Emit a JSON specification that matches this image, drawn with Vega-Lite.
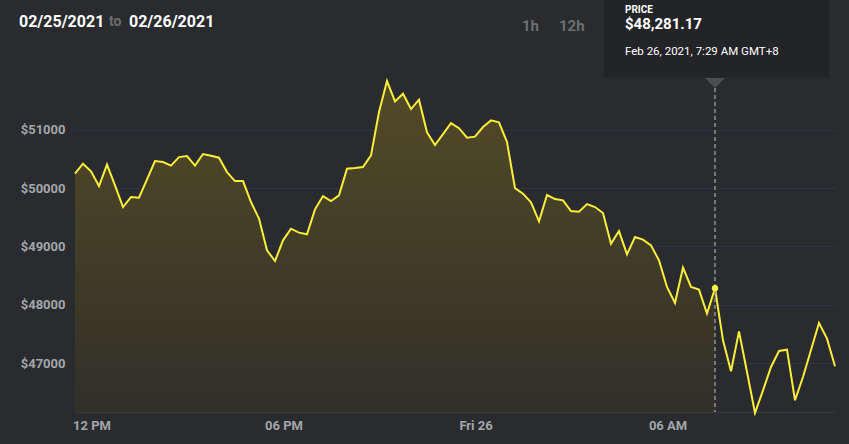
{
  "$schema": "https://vega.github.io/schema/vega-lite/v6.json",
  "autosize": "none",
  "width": 760,
  "height": 350,
  "padding": {"left": 75, "top": 62, "right": 14, "bottom": 32},
  "background": "#2a2b2e",
  "config": {"view": {"stroke": null}, "font": "Roboto"},
  "data": {
    "values": [
      {"time": "2021-02-25T11:29Z", "price": 50246},
      {"time": "2021-02-25T11:44Z", "price": 50417},
      {"time": "2021-02-25T11:59Z", "price": 50285},
      {"time": "2021-02-25T12:14Z", "price": 50033},
      {"time": "2021-02-25T12:29Z", "price": 50400},
      {"time": "2021-02-25T12:44Z", "price": 50045},
      {"time": "2021-02-25T12:59Z", "price": 49674},
      {"time": "2021-02-25T13:14Z", "price": 49845},
      {"time": "2021-02-25T13:29Z", "price": 49834},
      {"time": "2021-02-25T13:44Z", "price": 50148},
      {"time": "2021-02-25T13:59Z", "price": 50462},
      {"time": "2021-02-25T14:14Z", "price": 50445},
      {"time": "2021-02-25T14:29Z", "price": 50383},
      {"time": "2021-02-25T14:44Z", "price": 50530},
      {"time": "2021-02-25T14:59Z", "price": 50548},
      {"time": "2021-02-25T15:14Z", "price": 50383},
      {"time": "2021-02-25T15:29Z", "price": 50582},
      {"time": "2021-02-25T15:44Z", "price": 50554},
      {"time": "2021-02-25T15:59Z", "price": 50520},
      {"time": "2021-02-25T16:14Z", "price": 50273},
      {"time": "2021-02-25T16:29Z", "price": 50119},
      {"time": "2021-02-25T16:44Z", "price": 50119},
      {"time": "2021-02-25T16:59Z", "price": 49759},
      {"time": "2021-02-25T17:14Z", "price": 49475},
      {"time": "2021-02-25T17:29Z", "price": 48932},
      {"time": "2021-02-25T17:44Z", "price": 48748},
      {"time": "2021-02-25T17:59Z", "price": 49103},
      {"time": "2021-02-25T18:14Z", "price": 49303},
      {"time": "2021-02-25T18:29Z", "price": 49235},
      {"time": "2021-02-25T18:44Z", "price": 49206},
      {"time": "2021-02-25T18:59Z", "price": 49634},
      {"time": "2021-02-25T19:14Z", "price": 49862},
      {"time": "2021-02-25T19:29Z", "price": 49777},
      {"time": "2021-02-25T19:44Z", "price": 49874},
      {"time": "2021-02-25T19:59Z", "price": 50332},
      {"time": "2021-02-25T20:14Z", "price": 50342},
      {"time": "2021-02-25T20:29Z", "price": 50359},
      {"time": "2021-02-25T20:44Z", "price": 50560},
      {"time": "2021-02-25T20:59Z", "price": 51302},
      {"time": "2021-02-25T21:14Z", "price": 51833},
      {"time": "2021-02-25T21:29Z", "price": 51485},
      {"time": "2021-02-25T21:44Z", "price": 51617},
      {"time": "2021-02-25T21:59Z", "price": 51353},
      {"time": "2021-02-25T22:14Z", "price": 51514},
      {"time": "2021-02-25T22:29Z", "price": 50954},
      {"time": "2021-02-25T22:44Z", "price": 50736},
      {"time": "2021-02-25T22:59Z", "price": 50925},
      {"time": "2021-02-25T23:14Z", "price": 51113},
      {"time": "2021-02-25T23:29Z", "price": 51025},
      {"time": "2021-02-25T23:44Z", "price": 50863},
      {"time": "2021-02-25T23:59Z", "price": 50880},
      {"time": "2021-02-26T00:14Z", "price": 51045},
      {"time": "2021-02-26T00:29Z", "price": 51159},
      {"time": "2021-02-26T00:44Z", "price": 51125},
      {"time": "2021-02-26T00:59Z", "price": 50788},
      {"time": "2021-02-26T01:14Z", "price": 49999},
      {"time": "2021-02-26T01:29Z", "price": 49903},
      {"time": "2021-02-26T01:44Z", "price": 49754},
      {"time": "2021-02-26T01:59Z", "price": 49428},
      {"time": "2021-02-26T02:14Z", "price": 49880},
      {"time": "2021-02-26T02:29Z", "price": 49811},
      {"time": "2021-02-26T02:44Z", "price": 49788},
      {"time": "2021-02-26T02:59Z", "price": 49605},
      {"time": "2021-02-26T03:14Z", "price": 49594},
      {"time": "2021-02-26T03:29Z", "price": 49725},
      {"time": "2021-02-26T03:44Z", "price": 49674},
      {"time": "2021-02-26T03:59Z", "price": 49571},
      {"time": "2021-02-26T04:14Z", "price": 49046},
      {"time": "2021-02-26T04:29Z", "price": 49262},
      {"time": "2021-02-26T04:44Z", "price": 48863},
      {"time": "2021-02-26T04:59Z", "price": 49160},
      {"time": "2021-02-26T05:14Z", "price": 49115},
      {"time": "2021-02-26T05:29Z", "price": 49017},
      {"time": "2021-02-26T05:44Z", "price": 48760},
      {"time": "2021-02-26T05:59Z", "price": 48303},
      {"time": "2021-02-26T06:14Z", "price": 48028},
      {"time": "2021-02-26T06:29Z", "price": 48635},
      {"time": "2021-02-26T06:44Z", "price": 48303},
      {"time": "2021-02-26T06:59Z", "price": 48258},
      {"time": "2021-02-26T07:14Z", "price": 47847},
      {"time": "2021-02-26T07:29Z", "price": 48281.17},
      {"time": "2021-02-26T07:44Z", "price": 47389},
      {"time": "2021-02-26T07:59Z", "price": 46858},
      {"time": "2021-02-26T08:14Z", "price": 47543},
      {"time": "2021-02-26T08:29Z", "price": 46846},
      {"time": "2021-02-26T08:44Z", "price": 46143},
      {"time": "2021-02-26T08:59Z", "price": 46532},
      {"time": "2021-02-26T09:14Z", "price": 46932},
      {"time": "2021-02-26T09:29Z", "price": 47206},
      {"time": "2021-02-26T09:44Z", "price": 47229},
      {"time": "2021-02-26T09:59Z", "price": 46361},
      {"time": "2021-02-26T10:14Z", "price": 46760},
      {"time": "2021-02-26T10:29Z", "price": 47222},
      {"time": "2021-02-26T10:44Z", "price": 47686},
      {"time": "2021-02-26T10:59Z", "price": 47418},
      {"time": "2021-02-26T11:14Z", "price": 46944}
    ],
    "format": {"parse": {"time": "date"}}
  },
  "encoding": {
    "x": {
      "field": "time",
      "type": "temporal",
      "scale": {
        "type": "utc",
        "nice": false,
        "domain": [
          {"year": 2021, "month": 2, "date": 25, "hours": 11, "minutes": 29, "utc": true},
          {"year": 2021, "month": 2, "date": 26, "hours": 11, "minutes": 14, "utc": true}
        ]
      },
      "axis": {
        "title": null,
        "values": [
          {"year": 2021, "month": 2, "date": 25, "hours": 12, "utc": true},
          {"year": 2021, "month": 2, "date": 25, "hours": 18, "utc": true},
          {"year": 2021, "month": 2, "date": 26, "hours": 0, "utc": true},
          {"year": 2021, "month": 2, "date": 26, "hours": 6, "utc": true}
        ],
        "grid": false,
        "ticks": false,
        "domain": true,
        "domainColor": "#35373b",
        "domainWidth": 2,
        "labelColor": "#a3a6aa",
        "labelFont": "Roboto",
        "labelFontWeight": "bold",
        "labelFontSize": 13,
        "labelPadding": 7
      }
    },
    "y": {
      "field": "price",
      "type": "quantitative",
      "scale": {"domain": [46160, 52160], "nice": false, "zero": false},
      "axis": {
        "title": null,
        "values": [47000, 48000, 49000, 50000, 51000],
        "format": "$d",
        "grid": true,
        "gridColor": "#34466c",
        "gridDash": [1, 2],
        "gridWidth": 1,
        "ticks": false,
        "domain": false,
        "labelColor": "#a3a6aa",
        "labelFont": "Roboto",
        "labelFontWeight": "bold",
        "labelFontSize": 13,
        "labelPadding": 10
      }
    }
  },
  "layer": [
    {
      "transform": [
        {"filter": {"field": "time", "lte": {"year": 2021, "month": 2, "date": 26, "hours": 7, "minutes": 29, "utc": true}}}
      ],
      "mark": {
        "type": "area",
        "color": {
          "gradient": "linear",
          "x1": 0, "y1": 0, "x2": 0, "y2": 1,
          "stops": [
            {"offset": 0, "color": "#534a26"},
            {"offset": 1, "color": "#313029"}
          ]
        }
      },
      "encoding": {"y2": {"datum": 46160}}
    },
    {
      "mark": {"type": "line", "color": "#f9ef3a", "strokeWidth": 2, "strokeJoin": "miter"}
    },
    {
      "transform": [
        {"filter": {"field": "time", "equal": {"year": 2021, "month": 2, "date": 26, "hours": 7, "minutes": 29, "utc": true}}}
      ],
      "layer": [
        {
          "mark": {"type": "point", "shape": "M-1,-0.35L1,-0.35L1,0.35L-1,0.35Z", "filled": true, "size": 50625, "color": "#232427", "opacity": 1, "xOffset": 1.5},
          "encoding": {"y": {"datum": 52571}}
        },
        {
          "mark": {"type": "rule", "color": "#8f9194", "strokeWidth": 1.5, "strokeDash": [4, 3]},
          "encoding": {"y": {"datum": 51714}, "y2": {"datum": 46160}}
        },
        {
          "mark": {"type": "point", "shape": "M-1,-0.5L1,-0.5L0,0.5Z", "filled": true, "size": 400, "color": "#4b4e51", "opacity": 1},
          "encoding": {"y": {"datum": 51800}}
        },
        {
          "mark": {"type": "circle", "color": "#f9ef3a", "size": 40, "opacity": 1}
        },
        {
          "mark": {"type": "text", "text": "PRICE", "align": "left", "baseline": "middle", "dx": -90, "color": "#ffffff", "font": "Roboto", "fontWeight": "bold", "fontSize": 10},
          "encoding": {"y": {"datum": 53060}}
        },
        {
          "mark": {"type": "text", "text": "$48,281.17", "align": "left", "baseline": "middle", "dx": -90, "color": "#ffffff", "font": "Roboto", "fontWeight": "bold", "fontSize": 15},
          "encoding": {"y": {"datum": 52820}}
        },
        {
          "mark": {"type": "text", "text": "Feb 26, 2021, 7:29 AM GMT+8", "align": "left", "baseline": "middle", "dx": -90, "color": "#ffffff", "font": "Roboto", "fontSize": 11.5},
          "encoding": {"y": {"datum": 52330}}
        },
        {
          "mark": {"type": "text", "text": "02/25/2021", "align": "left", "baseline": "middle", "dx": -696, "color": "#ffffff", "font": "Roboto", "fontWeight": "bold", "fontSize": 16},
          "encoding": {"y": {"datum": 52854}}
        },
        {
          "mark": {"type": "text", "text": "to", "align": "left", "baseline": "middle", "dx": -606, "color": "#6a6d70", "font": "Roboto", "fontWeight": "bold", "fontSize": 14},
          "encoding": {"y": {"datum": 52840}}
        },
        {
          "mark": {"type": "text", "text": "02/26/2021", "align": "left", "baseline": "middle", "dx": -586, "color": "#ffffff", "font": "Roboto", "fontWeight": "bold", "fontSize": 16},
          "encoding": {"y": {"datum": 52854}}
        },
        {
          "mark": {"type": "text", "text": "1h", "align": "left", "baseline": "middle", "dx": -193, "color": "#6c6f73", "font": "Roboto", "fontWeight": "bold", "fontSize": 15},
          "encoding": {"y": {"datum": 52777}}
        },
        {
          "mark": {"type": "text", "text": "12h", "align": "left", "baseline": "middle", "dx": -156, "color": "#6c6f73", "font": "Roboto", "fontWeight": "bold", "fontSize": 15},
          "encoding": {"y": {"datum": 52777}}
        }
      ]
    }
  ]
}
